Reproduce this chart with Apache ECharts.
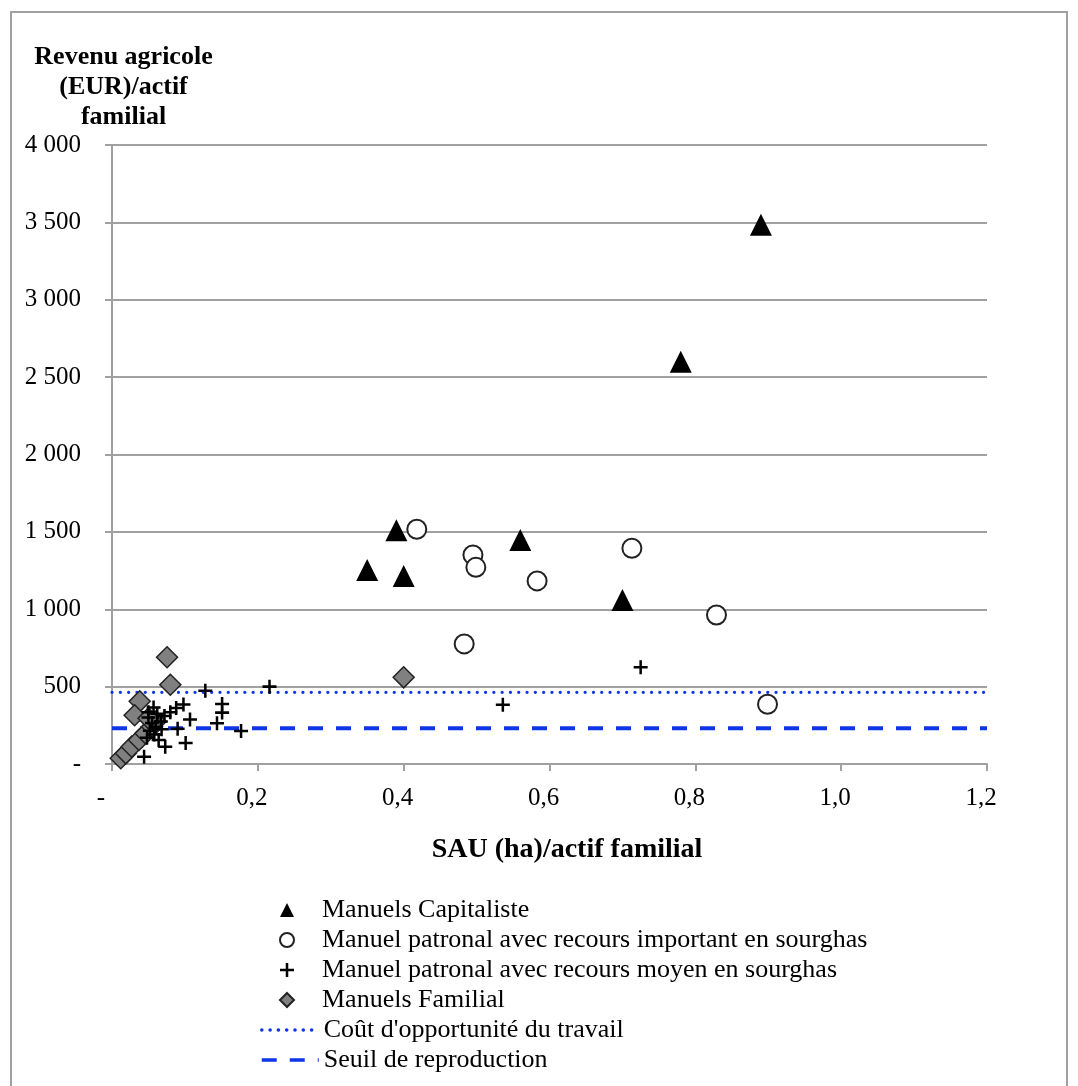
<!DOCTYPE html>
<html><head><meta charset="utf-8">
<script src="https://cdn.jsdelivr.net/npm/echarts@6/dist/echarts.min.js"></script>
<style>html,body{margin:0;padding:0;background:#fff}#c{width:1078px;height:1086px}</style>
</head><body><div id="c"></div>
<script>
// ---- data (x = SAU (ha)/actif familial, y = revenu agricole EUR/actif familial)
const capitaliste = [[0.39,1510],[0.35,1254],[0.40,1215],[0.56,1448],[0.70,1060],[0.78,2600],[0.89,3485]];
const importantSorgho = [[0.418,1517],[0.495,1351],[0.499,1271],[0.583,1183],[0.483,776],[0.713,1394],[0.829,963],[0.899,386]];
const moyenSorgho = [[0.128,474],[0.216,500],[0.151,388],[0.151,332],[0.144,263],[0.177,213],[0.536,383],[0.725,625],
  [0.107,288],[0.090,228],[0.101,135],[0.073,112],[0.044,47],[0.098,385],[0.088,362],[0.080,335],[0.072,310],[0.057,365],
  [0.064,155],[0.050,300],[0.055,265],[0.060,240],[0.052,215],[0.067,275],[0.058,190],[0.048,170],[0.068,225],[0.062,325],[0.050,335]];
const familial = [[0.0755,690],[0.080,512],[0.038,405],[0.031,315],[0.400,560],[0.012,37],[0.019,69],[0.027,112],
  [0.037,155],[0.046,198],[0.055,241],[0.060,275],[0.050,295]];
const coutOpportunite = 463;
const seuilReproduction = 231;
const xRange = [0, 1.2];
const yRange = [0, 4000];
const names = ['Manuels Capitaliste','Manuel patronal avec recours important en sourghas',
  'Manuel patronal avec recours moyen en sourghas','Manuels Familial',
  "Coût d'opportunité du travail",'Seuil de reproduction'];

const FONT = "'Liberation Serif', 'Times New Roman', serif";
const GRAY = '#a0a0a0';
const BLUE = '#0f35e8';
const crossPath = 'path://M4.1,0H5.9V4.1H10V5.9H5.9V10H4.1V5.9H0V4.1H4.1Z';

const chart = echarts.init(document.getElementById('c'), null, {renderer:'canvas'});
chart.setOption({
  animation:false,
  textStyle:{fontFamily:FONT},
  graphic:[{type:'rect', shape:{x:11,y:12,width:1056,height:1100}, style:{fill:'none',stroke:GRAY,lineWidth:2}, silent:true}],
  grid:{left:112,right:91,top:145,bottom:322},
  xAxis:{type:'value',min:xRange[0],max:xRange[1],interval:0.2,
    name:'SAU (ha)/actif familial',nameLocation:'middle',nameGap:72,
    nameTextStyle:{fontFamily:FONT,fontWeight:'bold',fontSize:28,color:'#000',padding:[0,0,0,35]},
    axisLine:{lineStyle:{color:GRAY,width:2}},
    axisTick:{show:true,length:7,lineStyle:{color:GRAY,width:2}},
    splitLine:{show:false},
    axisLabel:{fontFamily:FONT,fontSize:25,color:'#000',margin:22,
      formatter:v=>v===0?'{z|-}':'{n|'+v.toFixed(1).replace('.',',')+'}',
      rich:{z:{fontFamily:FONT,fontSize:25,color:'#000',padding:[0,22,0,0]},
            n:{fontFamily:FONT,fontSize:25,color:'#000',padding:[0,12,0,0]}}}},
  yAxis:{type:'value',min:yRange[0],max:yRange[1],interval:500,
    name:'Revenu agricole\n(EUR)/actif\nfamilial',nameLocation:'end',nameGap:8,
    nameTextStyle:{fontFamily:FONT,fontWeight:'bold',fontSize:26,lineHeight:30,color:'#000',align:'center',padding:[0,0,0,23]},
    axisLine:{show:true,lineStyle:{color:GRAY,width:2}},
    axisTick:{show:true,length:7,lineStyle:{color:GRAY,width:2}},
    splitLine:{show:true,lineStyle:{color:GRAY,width:2}},
    axisLabel:{fontFamily:FONT,fontSize:25,color:'#000',margin:31,padding:[6,0,0,0],
      formatter:v=>v===0?'-':String(v).replace(/\B(?=(\d{3})+(?!\d))/g,' ')}},
  legend:[
    {data:names.slice(0,4),orient:'vertical',left:274,top:890,itemWidth:14,itemHeight:14,itemGap:0,selectedMode:false,
     textStyle:{fontFamily:FONT,fontSize:26,color:'#000',lineHeight:30,padding:[0,0,0,23]}},
    {data:names.slice(4),orient:'vertical',left:255,top:1010,itemWidth:57,itemHeight:14,itemGap:0,selectedMode:false,
     itemStyle:{opacity:0,color:'rgba(0,0,0,0)',borderWidth:0},
     lineStyle:{width:3.5},
     textStyle:{fontFamily:FONT,fontSize:26,color:'#000',lineHeight:30}}
  ],
  series:[
    {name:names[4],type:'line',data:[[xRange[0],coutOpportunite],[xRange[1],coutOpportunite]],symbol:'none',silent:true,
     lineStyle:{color:BLUE,width:3.2,type:[0.1,8.2],cap:'round'},itemStyle:{color:BLUE},z:1},
    {name:names[5],type:'line',data:[[xRange[0],seuilReproduction],[xRange[1],seuilReproduction]],symbol:'none',silent:true,
     lineStyle:{color:BLUE,width:4,type:[15,13],cap:'butt'},itemStyle:{color:BLUE},z:1},
    {name:names[3],type:'scatter',data:familial,symbol:'diamond',symbolSize:21,
     itemStyle:{color:'#808080',borderColor:'#222',borderWidth:1.5,opacity:1},emphasis:{disabled:true},z:2},
    {name:names[2],type:'scatter',data:moyenSorgho,symbol:crossPath,symbolSize:14,
     itemStyle:{color:'#000',opacity:1},emphasis:{disabled:true},z:3},
    {name:names[1],type:'scatter',data:importantSorgho,symbol:'circle',symbolSize:19,
     itemStyle:{color:'#fff',borderColor:'#222',borderWidth:2,opacity:1},emphasis:{disabled:true},z:3},
    {name:names[0],type:'scatter',data:capitaliste,symbol:'triangle',symbolSize:22,
     itemStyle:{color:'#000',opacity:1},emphasis:{disabled:true},z:3}
  ]
});
</script></body></html>
